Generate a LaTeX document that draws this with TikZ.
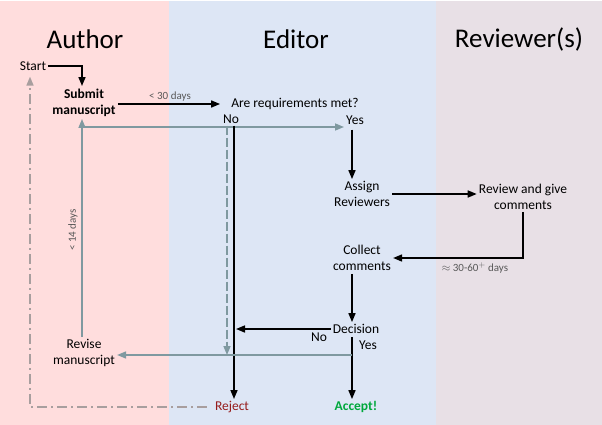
\documentclass[tikz,border=0pt]{standalone}
\usepackage{fontspec}
\setmainfont{Carlito}
\usetikzlibrary{arrows.meta,calc}
\definecolor{authorpink}{RGB}{255,221,221}
\definecolor{editorblue}{RGB}{221,230,245}
\definecolor{reviewgray}{RGB}{232,224,230}
\definecolor{flowgray}{RGB}{127,153,160}
\definecolor{loopgray}{RGB}{168,158,158}
\definecolor{rejectred}{RGB}{150,28,28}
\definecolor{acceptgreen}{RGB}{0,168,60}

\begin{document}
\begin{tikzpicture}[
        x=1pt, y=-1pt,
        lane/.style={font=\fontsize{27}{30}\selectfont},
        txt/.style={align=center, font=\fontsize{13.5}{16}\selectfont, inner sep=2pt},
        small/.style={font=\fontsize{11}{13}\selectfont, text=black!65, inner sep=1pt},
        arr/.style={line width=1.6pt, -{Triangle[length=9pt,width=7pt]}},
        grayarr/.style={line width=1.5pt, flowgray, -{Triangle[length=9pt,width=7pt]}},
    ]
        \useasboundingbox (0,0) rectangle (602,425);
        \fill[authorpink] (0,1) rectangle (168.5,425);
        \fill[editorblue] (168.5,1) rectangle (436,425);
        \fill[reviewgray] (436,1) rectangle (602,425);

        \node[lane] (tauthor) at (85,39) {Author};
        \node[lane] (teditor) at (296,39) {Editor};
        \node[lane] (treview) at (519,39) {Reviewer(s)};

        \node[txt] (start) at (33,66) {Start};
        \node[txt, font=\fontsize{13.5}{16}\selectfont\bfseries] (submit) at (84,103) {Submit\\manuscript};
        \node[txt] (req) at (295,104) {Are requirements met?};
        \node[txt] (no1) at (231,119) {No};
        \node[txt] (yes1) at (355,120) {Yes};
        \node[txt] (assign) at (362,194) {Assign\\Reviewers};
        \node[txt] (review) at (523,197) {Review and give\\comments};
        \node[txt] (collect) at (362,258) {Collect\\comments};
        \node[txt] (decision) at (356,329) {Decision};
        \node[txt] (no2) at (319,337) {No};
        \node[txt] (yes2) at (368,345) {Yes};
        \node[txt] (revise) at (84,353) {Revise\\manuscript};
        \node[txt, text=rejectred] (reject) at (232,407) {Reject};
        \node[txt, text=acceptgreen, font=\fontsize{13.5}{16}\selectfont\bfseries] (accept) at (356,407) {Accept!};

        \node[small] (l30) at (170,97) {< 30 days};
        \node[small, rotate=90] (l14) at (73,230) {< 14 days};
        \node[small] (l3060) at (475,268) {$\approx$ 30-60$^{+}$ days};

        \coordinate (spine) at (352,0);
        \coordinate (resub) at (82,127);
        \coordinate (fork) at (352,355);
        \coordinate (noline) at (234,0);

        % author side
        \draw[arr, shorten >=1pt] (start.east) -| ([xshift=-2pt]submit.north);
        \draw[arr, shorten >=9pt] (submit.east |- req.west) -- (req.west);
        \draw[grayarr] ([xshift=-2pt]revise.north) -- ([xshift=-2pt]submit.south);
        \draw[grayarr] (resub) -- (resub -| yes1.west);
        \draw[loopgray, line width=1.6pt, dash pattern=on 10pt off 4pt on 2pt off 4pt, -{Triangle[length=9pt,width=7pt]}, shorten >=4pt, shorten <=6pt]
            (reject.west) -| ([xshift=-3pt]start.south);

        % editor side
        \draw[arr] (noline |- no1.south) -- (noline |- reject.north);
        \draw[grayarr, dash pattern=on 9pt off 3pt] ([xshift=-4pt]no1.south) -- ([xshift=-4pt]no1.south |- fork);
        \draw[arr, shorten <=3pt] (spine |- yes1.south) -- (spine |- assign.north);
        \draw[arr] (assign.east) -- (assign.east -| review.west);
        \draw[arr] (review.south) |- (collect.east);
        \draw[arr, shorten <=1pt] (spine |- collect.south) -- (spine |- decision.north);
        \draw[arr] (decision.west) -- ([xshift=2pt]noline |- decision.west);
        \draw[arr, shorten <=1pt] (spine |- decision.south) -- (spine |- accept.north);
        \draw[grayarr] (fork) -- (fork -| revise.east);
    \end{tikzpicture}
\end{document}
